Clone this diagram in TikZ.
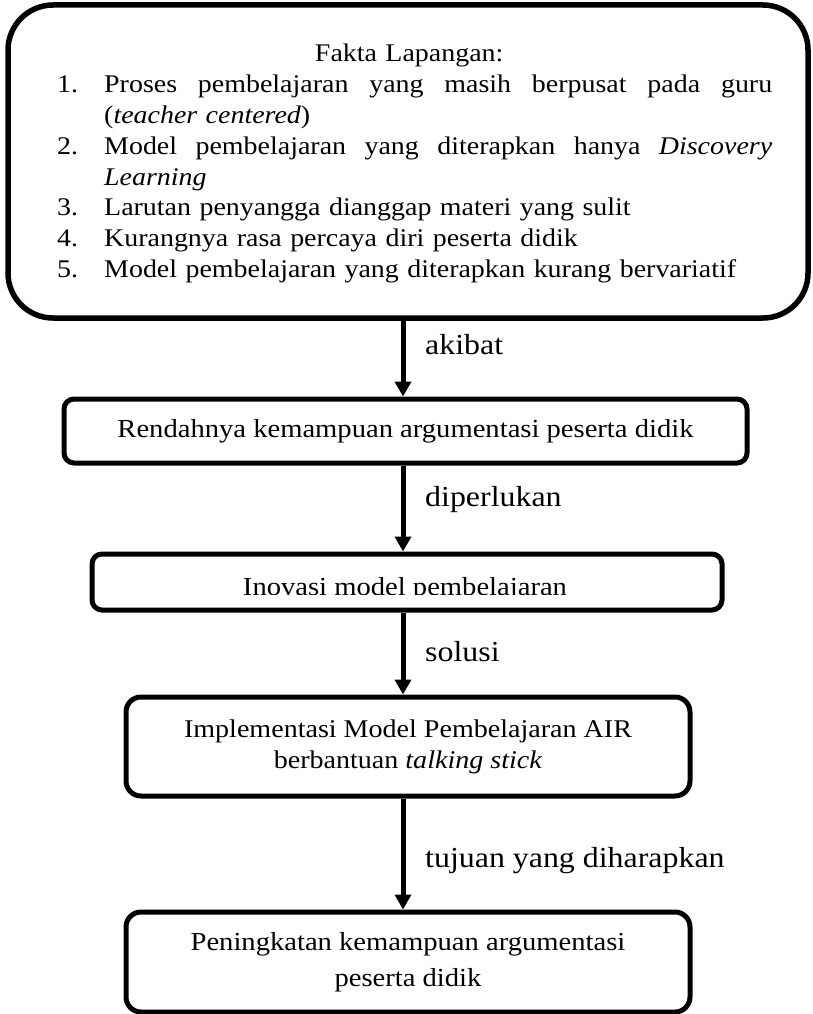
\documentclass[tikz,border=0pt]{standalone}
\usepackage{fontspec}
\setmainfont{Liberation Serif}[FakeStretch=1.1]
\usetikzlibrary{arrows.meta,calc}
\newcommand\boxfont{\fontsize{26}{31}\selectfont}
\newcommand\factfont{\fontsize{25.4}{30.8}\selectfont}
\newcommand\lblfont{\fontsize{29}{34}\selectfont}
\newcommand\jline[1]{{\spaceskip=0pt\xspaceskip=0pt\makebox[668pt][s]{#1}}}
\begin{document}
\begin{tikzpicture}[x=1pt,y=-1pt,
  box/.style={draw, line width=5pt, inner sep=0pt, align=center, font=\boxfont},
  arr/.style={line width=5pt, -{Triangle[width=16pt,length=15pt]}},
  lbl/.style={anchor=west, inner sep=0pt, font=\lblfont}]
\useasboundingbox (0,0) rectangle (813,1014);
\coordinate (axis) at (403,0);
% top box
\node[draw, line width=5.5pt, rounded corners=45pt, minimum width=800pt, minimum height=313pt, inner sep=0pt] (fakta) at (408,161.5) {};
\node[anchor=base west, inner sep=0pt, text width=715pt, align=left, font=\factfont] (faktatext) at (57,62) {%
\makebox[715pt][c]{\hspace*{-11pt}Fakta Lapangan:}\\
\makebox[47pt][l]{1.}\jline{Proses pembelajaran yang masih berpusat pada guru}\\
\hspace*{47pt}(\textit{teacher centered})\\
\makebox[47pt][l]{2.}\jline{Model pembelajaran yang diterapkan hanya \textit{Discovery}}\\
\hspace*{47pt}\textit{Learning}\\
\makebox[47pt][l]{3.}Larutan penyangga dianggap materi yang sulit\\
\makebox[47pt][l]{4.}Kurangnya rasa percaya diri peserta didik\\
\makebox[47pt][l]{5.}Model pembelajaran yang diterapkan kurang bervariatif};
% boxes
\node[box, rounded corners=10pt, minimum width=683pt, minimum height=64pt] (b2) at (405.5,431) {Rendahnya kemampuan argumentasi peserta didik};
\node[box, rounded corners=10pt, minimum width=630pt, minimum height=56pt] (b3) at (407,582) {};
\begin{scope}
\clip (92,554) rectangle (722,594);
\node[anchor=base, inner sep=0pt, font=\boxfont] (b3text) at (405,595) {Inovasi model pembelajaran};
\end{scope}
\node[box, rounded corners=15pt, minimum width=564pt, minimum height=99pt, font=\fontsize{25.5}{31}\selectfont] (b4) at (408,746.5) {Implementasi Model Pembelajaran AIR\\berbantuan \textit{talking stick}};
\node[box, rounded corners=15pt, minimum width=564pt, minimum height=100pt, font=\fontsize{26}{36}\selectfont] (b5) at (408,962) {Peningkatan kemampuan argumentasi\\peserta didik};
% arrows
\draw[arr] (fakta.south -| axis) -- (b2.north -| axis);
\draw[arr] (b2.south -| axis) -- (b3.north -| axis);
\draw[arr] (b3.south -| axis) -- (b4.north -| axis);
\draw[arr] (b4.south -| axis) -- (b5.north -| axis);
% labels
\node[lbl] (l1) at (425,345) {akibat};
\node[lbl] (l2) at (425,500) {diperlukan};
\node[lbl] (l3) at (425,652) {solusi};
\node[lbl] (l4) at (425,861) {tujuan yang diharapkan};
\end{tikzpicture}
\end{document}
